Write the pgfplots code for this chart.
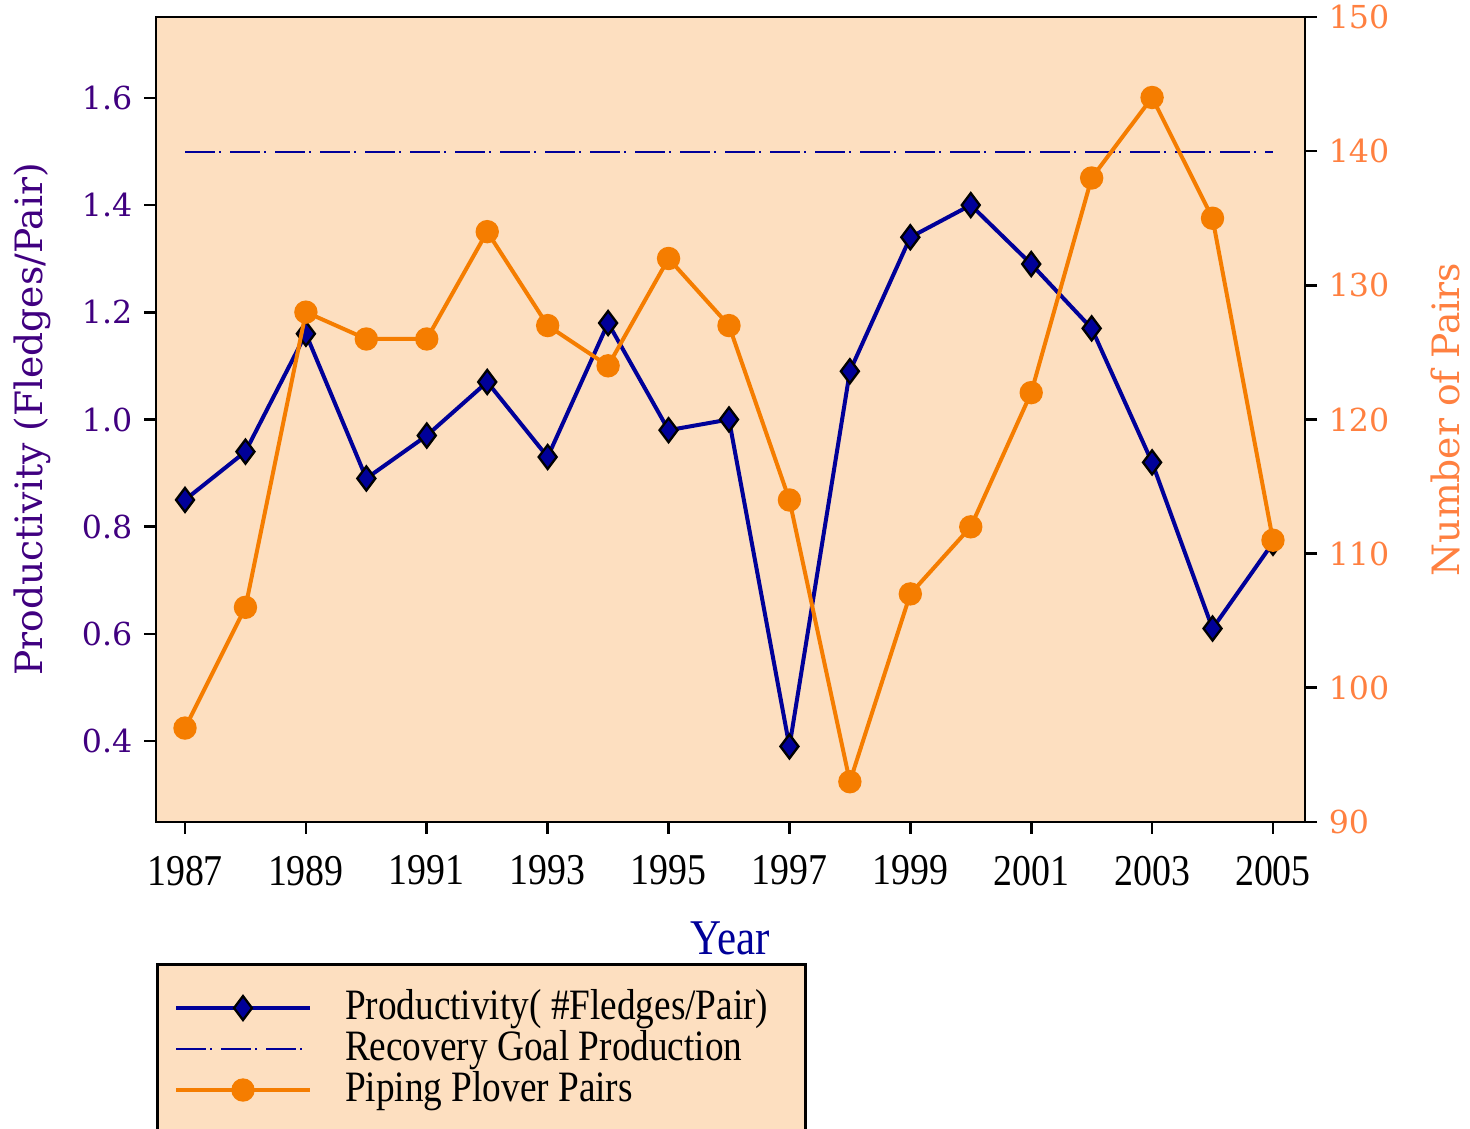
\documentclass[border=0pt]{standalone}
\usepackage{pgfplots}
\pgfplotsset{compat=1.18}
\usepackage{fontspec}
\setmainfont{DejaVu Serif}
\newfontfamily\condfont[FakeStretch=0.86]{Liberation Serif}
\definecolor{peach}{RGB}{253,223,192}
\definecolor{navyb}{RGB}{0,0,153}
\definecolor{orangel}{RGB}{245,125,0}
\definecolor{purp}{RGB}{64,0,128}
\definecolor{coral}{RGB}{255,128,64}

\pgfplotstableread{
year prod
1987 0.85
1988 0.94
1989 1.16
1990 0.89
1991 0.97
1992 1.07
1993 0.93
1994 1.18
1995 0.98
1996 1.00
1997 0.39
1998 1.09
1999 1.34
2000 1.40
2001 1.29
2002 1.17
2003 0.92
2004 0.61
2005 0.77
}\prodtable
\pgfplotstableread{
year pairs
1987 97
1988 106
1989 128
1990 126
1991 126
1992 134
1993 127
1994 124
1995 132
1996 127
1997 114
1998 93
1999 107
2000 112
2001 122
2002 138
2003 144
2004 135
2005 111
}\pairstable

\pgfplotsset{
  common/.style={
    at={(0,0)}, anchor=south west,
    scale only axis, width=344.7pt, height=241.5pt,
    xmin=1986.52, xmax=2005.53,
    tick align=outside,
    major tick length=3.6pt,
    every tick/.style={black, line width=0.8pt},
    axis line style={line width=0.8pt},
    /pgf/number format/assume math mode=true,
  },
  prodstyle/.style={navyb, line width=1.2pt, mark=diamond*, mark size=3.6pt,
    mark options={draw=black, fill=navyb, line width=0.7pt}},
  goalstyle/.style={navyb, line width=0.6pt, dash pattern=on 9pt off 1.3pt on 0.6pt off 2.6pt},
  pairstyle/.style={orangel, line width=1.2pt, mark=*, mark size=2.9pt,
    mark options={draw=orangel, fill=orangel}},
}

\begin{document}
\begin{tikzpicture}
\begin{axis}[
  common,
  axis background/.style={fill=peach},
  ymin=0.249, ymax=1.751,
  xtick={1987,1989,...,2005},
  xtick pos=left, ytick pos=left,
  xticklabel style={font=\condfont\fontsize{13.2}{14}\selectfont, /pgf/number format/1000 sep={}, yshift=-3pt},
  ytick={0.4,0.6,0.8,1.0,1.2,1.4,1.6},
  yticklabel style={font=\rmfamily\fontsize{9.5}{11}\selectfont, color=purp,
    /pgf/number format/fixed, /pgf/number format/fixed zerofill, /pgf/number format/precision=1},
  ylabel={Productivity (Fledges/Pair)},
  ylabel shift=2.4pt,
  ylabel style={font=\rmfamily\fontsize{11.3}{13}\selectfont, color=purp},
  xlabel={Year},
  xlabel shift=4pt,
  xlabel style={font=\condfont\fontsize{15}{17}\selectfont, color=navyb},
]
\addplot[prodstyle] table[x=year, y=prod] {\prodtable};
\addplot[goalstyle] coordinates {(1987,1.5) (2005,1.5)};
\end{axis}
\begin{axis}[
  common,
  axis x line=none,
  axis y line*=right,
  ymin=90, ymax=150,
  ytick={90,100,...,150},
  yticklabel style={font=\rmfamily\fontsize{9.5}{11}\selectfont, color=coral},
  ylabel={Number of Pairs},
  ylabel shift=5.7pt,
  ylabel style={font=\rmfamily\fontsize{11.3}{13}\selectfont, color=coral},
  legend style={at={(0,-0.175)}, anchor=north west, fill=peach, draw=black,
    line width=0.8pt, inner xsep=5pt, inner ysep=7pt, row sep=0pt,
    font=\condfont\fontsize{13}{14}\selectfont,
    nodes={inner sep=0pt, text height=9.5pt, text depth=2.8pt}},
  legend cell align=left,
  legend image code/.code={
    \draw[mark repeat=2, mark phase=2, #1] plot coordinates {(0pt,0pt) (20.1pt,0pt) (40.2pt,0pt)};
  },
]
\addlegendimage{prodstyle}
\addlegendentry{\makebox[143pt][l]{\hspace{9.9pt}Productivity( \#Fledges/Pair)}}
\addlegendimage{goalstyle}
\addlegendentry{\makebox[143pt][l]{\hspace{9.9pt}Recovery Goal Production}}
\addplot[pairstyle] table[x=year, y=pairs] {\pairstable};
\addlegendentry{\makebox[143pt][l]{\hspace{9.9pt}Piping Plover Pairs}}
\end{axis}
\pgfresetboundingbox
\path (-46.8pt,-92.1pt) rectangle (394.2pt,246.6pt);
\end{tikzpicture}
\end{document}
